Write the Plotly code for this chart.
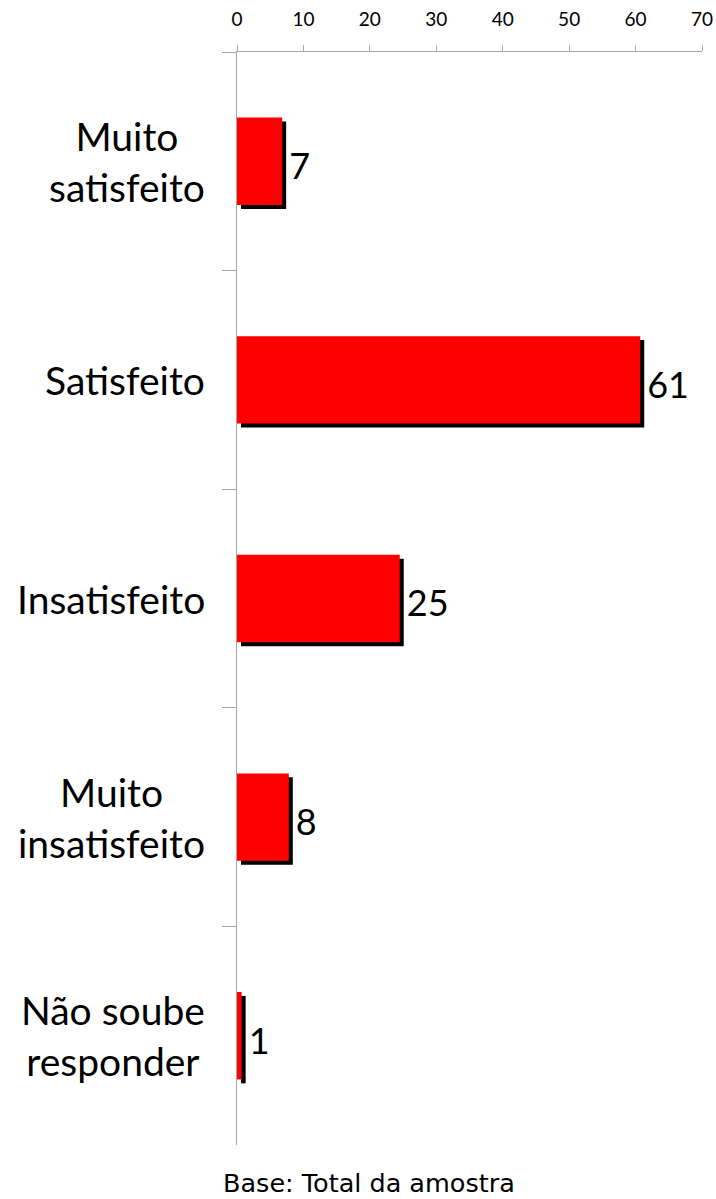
import plotly.graph_objects as go

categories = ["Muito satisfeito", "Satisfeito", "Insatisfeito", "Muito insatisfeito", "Não soube responder"]
cat_labels = ["Muito<br>satisfeito", "Satisfeito", "Insatisfeito", "Muito<br>insatisfeito", "Não soube<br>responder"]
values = [6.8, 60.7, 24.5, 7.8, 0.7]
value_labels = ["7", "61", "25", "8", "1"]
x_ticks = [0, 10, 20, 30, 40, 50, 60, 70]
footnote = "Base: Total da amostra"

BAR_W = 0.40
SHADOW_DX = 0.6      # data units (~4px)
SHADOW_DY = 0.018    # category units (~4px)

fig = go.Figure()

# shadow
fig.add_trace(go.Bar(
    y=categories, x=values, base=[SHADOW_DX] * len(values), orientation="h",
    width=BAR_W, offset=-BAR_W / 2 + SHADOW_DY,
    marker=dict(color="#000000", line=dict(width=0)),
    text=value_labels, textposition="outside", constraintext="none",
    textfont=dict(family="Lato", size=36, color="#000000"),
    cliponaxis=False, hoverinfo="skip", showlegend=False,
))
# main bars
fig.add_trace(go.Bar(
    y=categories, x=values, orientation="h",
    width=BAR_W, offset=-BAR_W / 2,
    marker=dict(color="#FF0000", line=dict(width=0)),
    showlegend=False,
))

for cat, lab in zip(categories, cat_labels):
    fig.add_annotation(
        x=0, y=cat, xref="x", yref="y", text=lab, showarrow=False,
        xanchor="right", yanchor="middle", align="center", xshift=-30,
        font=dict(family="Lato", size=39, color="#000000"),
    )

fig.add_annotation(
    x=0.284, y=0, xref="paper", yref="paper", text=footnote, showarrow=False,
    xanchor="center", yanchor="middle", yshift=-38,
    font=dict(family="DejaVu Sans", size=25.5, color="#000000"),
)

fig.update_layout(
    width=716, height=1199,
    margin=dict(l=237, r=14, t=52, b=54, autoexpand=False),
    barmode="overlay",
    plot_bgcolor="white", paper_bgcolor="white",
    xaxis=dict(
        range=[0, 70], side="top", tickvals=x_ticks, ticktext=[str(t) for t in x_ticks],
        showgrid=False, zeroline=False, showline=True, linecolor="#a6a6a6", linewidth=1,
        ticks="outside", ticklen=6, tickcolor="#a6a6a6", ticklabelstandoff=11,
        tickfont=dict(family="Lato", size=19, color="#000000"),
        automargin=False, fixedrange=True,
    ),
    yaxis=dict(
        autorange="reversed", showticklabels=False, showgrid=False, zeroline=False,
        showline=True, linecolor="#a6a6a6", linewidth=1,
        ticks="outside", tickson="boundaries", ticklen=14, tickcolor="#a6a6a6",
        automargin=False, fixedrange=True,
    ),
)

fig.write_html(
    "out.html",
    config={"displayModeBar": False},
    post_script="document.body.style.margin='0';document.body.style.overflow='hidden';",
)
